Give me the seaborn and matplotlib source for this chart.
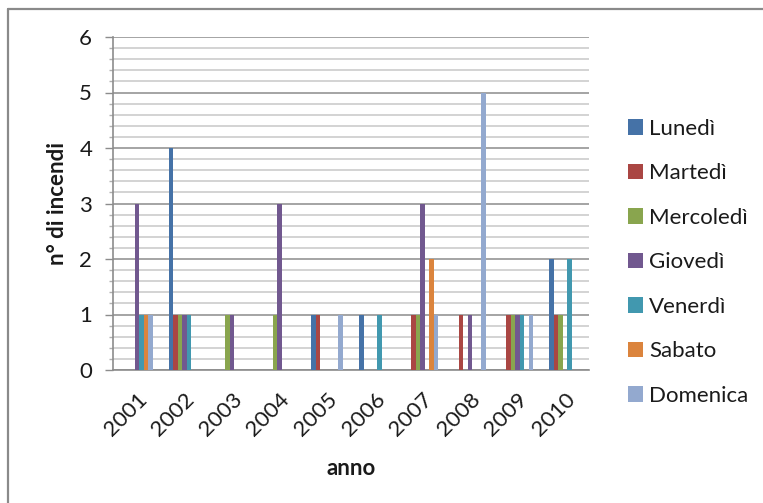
import matplotlib
matplotlib.use("Agg")
import matplotlib.pyplot as plt
from matplotlib.ticker import MultipleLocator
from matplotlib.lines import Line2D
import seaborn as sns
import pandas as pd

# Fires per year, split by day of the week
anni = ["2001", "2002", "2003", "2004", "2005", "2006", "2007", "2008", "2009", "2010"]
giorni = ["Lunedì", "Martedì", "Mercoledì", "Giovedì", "Venerdì", "Sabato", "Domenica"]

lunedi    = [0, 4, 0, 0, 1, 1, 0, 0, 0, 2]
martedi   = [0, 1, 0, 0, 1, 0, 1, 1, 1, 1]
mercoledi = [0, 1, 1, 1, 0, 0, 1, 0, 1, 1]
giovedi   = [3, 1, 1, 3, 0, 0, 3, 1, 1, 0]
venerdi   = [1, 1, 0, 0, 0, 1, 0, 0, 1, 2]
sabato    = [1, 0, 0, 0, 0, 0, 2, 0, 0, 0]
domenica  = [1, 0, 0, 0, 1, 0, 1, 5, 1, 0]

colori = ["#4572A7", "#AA4643", "#89A54E", "#71588F", "#4198AF", "#DB843D", "#93A9CF"]

serie = [lunedi, martedi, mercoledi, giovedi, venerdi, sabato, domenica]
righe = []
for giorno, valori in zip(giorni, serie):
    for anno, v in zip(anni, valori):
        righe.append({"anno": anno, "giorno": giorno, "incendi": v})
df = pd.DataFrame(righe)

sns.set_theme(style="white")
plt.rcParams["font.family"] = ["Lato", "DejaVu Sans"]

FS = 16
TXT = "#1a1a1a"

W, H = 763, 503
fig = plt.figure(figsize=(W / 100, H / 100), dpi=100)
fig.patch.set_facecolor("white")

# plot area in pixel coordinates
left, right, top, bottom = 113, 589, 37, 370
ax = fig.add_axes([left / W, 1 - bottom / H, (right - left) / W, (bottom - top) / H])

sns.barplot(data=df, x="anno", y="incendi", hue="giorno", order=anni,
            hue_order=giorni, palette=colori, width=0.66, saturation=1,
            linewidth=0, ax=ax, legend=True, zorder=3)

ax.set_xlim(-0.5, len(anni) - 0.5)
ax.set_ylim(0, 6)
ax.yaxis.set_major_locator(MultipleLocator(1))
ax.yaxis.set_minor_locator(MultipleLocator(0.2))
ax.grid(True, axis="y", which="major", color="#8c8c8c", lw=1.1, zorder=0)
ax.grid(True, axis="y", which="minor", color="#c8c8c8", lw=1.1, zorder=0)
ax.set_axisbelow(True)

for s in ["top", "right"]:
    ax.spines[s].set_visible(False)
for s in ["left", "bottom"]:
    ax.spines[s].set_color("#8c8c8c")
    ax.spines[s].set_linewidth(1.2)

ax.tick_params(axis="y", which="major", left=True, length=6, width=1,
               color="#8c8c8c", labelsize=FS, pad=9, labelcolor=TXT)
ax.tick_params(axis="y", which="minor", left=True, length=3, width=1, color="#b0b0b0")
ax.tick_params(axis="x", bottom=False, labelsize=FS, pad=8, labelcolor=TXT)
for lab in ax.get_xticklabels():
    lab.set_rotation(45)
    lab.set_ha("right")
    lab.set_rotation_mode("anchor")

ax.set_xlabel("anno", fontsize=FS, fontweight="bold", labelpad=13, color=TXT)
ax.set_ylabel("n° di incendi", fontsize=FS, fontweight="bold", labelpad=8, color=TXT)

handles, labels = ax.get_legend_handles_labels()
ax.legend_.remove()
fig.legend(handles, labels, loc="upper left", bbox_to_anchor=(619 / W, 1 - 110 / H),
           frameon=False, fontsize=FS, handlelength=0.7, handleheight=0.7,
           handletextpad=0.25, labelspacing=1.1, borderaxespad=0,
           labelcolor=TXT)

# chart frame (left and top edges)
fig.add_artist(Line2D([8 / W, 8 / W], [0, 1 - 9 / H], transform=fig.transFigure,
                      color="#8a8a8a", lw=1.6))
fig.add_artist(Line2D([8 / W, 1], [1 - 9 / H, 1 - 9 / H], transform=fig.transFigure,
                      color="#8a8a8a", lw=1.6))

fig.savefig("out.png", dpi=100)
